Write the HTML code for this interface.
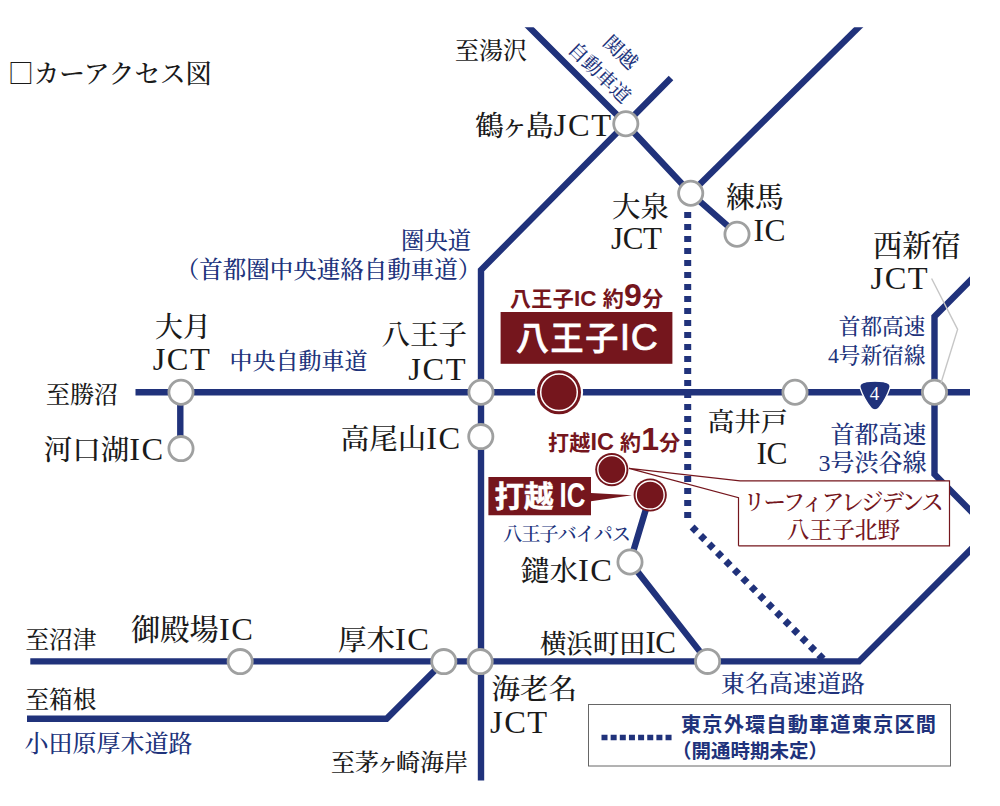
<!DOCTYPE html>
<html lang="ja">
<head>
<meta charset="utf-8">
<title>カーアクセス図</title>
<style>
html,body{margin:0;padding:0;background:#fff;}
body{width:1000px;height:806px;overflow:hidden;}
svg{display:block;}
.s{font-family:"Liberation Serif","Noto Serif CJK JP","Noto Serif CJK SC",serif;fill:#1a1a1a;font-weight:500;}
.n{font-family:"Liberation Serif","Noto Serif CJK JP","Noto Serif CJK SC",serif;fill:#20327b;font-weight:500;}
.r{font-family:"Liberation Sans","Noto Sans CJK JP",sans-serif;font-weight:bold;fill:#75161d;}
.rs{font-family:"Liberation Serif","Noto Serif CJK JP","Noto Serif CJK SC",serif;fill:#75161d;font-weight:500;}
.b{font-family:"Liberation Sans","Noto Sans CJK JP",sans-serif;font-weight:bold;fill:#20327b;}
.w{font-family:"Liberation Sans","Noto Sans CJK JP",sans-serif;font-weight:bold;fill:#fff;}
.road{stroke:#20327b;stroke-width:6.4;fill:none;stroke-linejoin:miter;}
.dot{stroke:#20327b;stroke-width:7;fill:none;stroke-dasharray:6 6;}
.ic{fill:#fff;stroke:#9fa0a0;stroke-width:2.8;}
.a{font-size:32.5px;letter-spacing:1.5px;}
</style>
</head>
<body>
<svg width="1000" height="806" viewBox="0 0 1000 806">
<defs><clipPath id="cp"><rect x="0" y="27.2" width="970" height="753.4"/></clipPath></defs>
<rect width="1000" height="806" fill="#fff"/>
<g clip-path="url(#cp)">
<!-- roads -->
<path class="road" d="M135.5 392.3H970"/>
<path class="road" d="M180.3 392V450"/>
<path class="road" d="M481 790V270L625.8 123.8L671 78"/>
<path class="road" d="M519.2 17.2L625.8 123.8L690.7 193.3L737 234.2"/>
<path class="road" d="M690.7 193.3L870 16"/>
<path class="road" d="M30.3 661.4H859L980 540.4"/>
<path class="road" d="M27 718.8H386.6L443.8 661.6"/>
<path class="road" d="M650.2 495L630 562L707.6 661.4"/>
<path class="road" d="M980 270.6L934.5 316.5V474.3L980 520.3"/>
<!-- dotted -->
<path class="dot" d="M687.7 212V522"/>
<path class="dot" d="M692.1 527L825 661"/>
</g>
<!-- IC circles -->
<g class="ic">
<circle cx="625.8" cy="123.8" r="12.1"/>
<circle cx="690.7" cy="193.3" r="12.1"/>
<circle cx="737" cy="234.2" r="12.1"/>
<circle cx="181" cy="392.3" r="12.1"/>
<circle cx="181" cy="448.6" r="12.1"/>
<circle cx="481" cy="392.3" r="12.1"/>
<circle cx="480.8" cy="436.6" r="12.1"/>
<circle cx="795" cy="392.3" r="12.1"/>
<circle cx="934.5" cy="392.3" r="12.1"/>
<circle cx="630" cy="562" r="12.1"/>
<circle cx="707.6" cy="661.4" r="12.1"/>
<circle cx="240.2" cy="661.6" r="12.1"/>
<circle cx="443.8" cy="661.6" r="12.1"/>
<circle cx="480.2" cy="661.6" r="12.1"/>
</g>
<!-- route 4 shield -->
<path d="M875 381.2C868 381.2 863 382.5 861.5 383.5C859.8 384.6 859.6 386.5 860.3 388.5C862.5 395 867 403 871 408C873 410.6 877 410.6 879 408C883 403 887.5 395 889.7 388.5C890.4 386.5 890.2 384.6 888.5 383.5C887 382.5 882 381.2 875 381.2Z" fill="#20327b" stroke="#fff" stroke-width="1.3"/>
<text x="874.6" y="400.2" text-anchor="middle" font-size="19" fill="#fff" font-family="'Liberation Serif',serif">4</text>
<!-- nishi-shinjuku leader -->
<path d="M931.6 278.5L957.6 329.4L941 383" stroke="#c6c6c6" stroke-width="1.4" fill="none"/>

<!-- red markers -->
<circle cx="559" cy="392.3" r="24.1" fill="#fff"/>
<circle cx="559" cy="392.3" r="22" fill="#75161d"/>
<circle cx="559" cy="392.3" r="18.3" fill="none" stroke="#fff" stroke-width="1.5"/>
<circle cx="611.8" cy="469.6" r="16.6" fill="#75161d"/>
<circle cx="611.8" cy="469.6" r="14" fill="none" stroke="#fff" stroke-width="1.4"/>
<circle cx="650.2" cy="495" r="16.6" fill="#75161d"/>
<circle cx="650.2" cy="495" r="14" fill="none" stroke="#fff" stroke-width="1.4"/>
<!-- hachioji IC box -->
<rect x="500.6" y="312" width="171.8" height="51.8" fill="#75161d"/>
<text class="w" x="516" y="349.6" font-size="33" letter-spacing="1.6" style="font-weight:500;stroke:#fff;stroke-width:.7px">八王子<tspan font-size="37.5" letter-spacing="0.5" dy="0.3">IC</tspan></text>
<text class="r" x="510" y="305.5" font-size="21" letter-spacing="0.35">八王子<tspan font-size="22.5" letter-spacing="0">IC</tspan> 約<tspan font-size="32">9</tspan>分</text>
<!-- uchikoshi -->
<path d="M488.4 477H591V493L632 495.2L591 501.3V515.3H488.4Z" fill="#75161d"/>
<text class="w" x="494.5" y="507" font-size="29.5" style="font-weight:bold;stroke:#fff;stroke-width:.5px">打越</text>
<text class="w" transform="translate(559.5,507.4) scale(0.72,1)" font-size="36" style="font-weight:bold">IC</text>
<text class="r" x="548" y="450" font-size="21" letter-spacing="0.2">打越<tspan font-size="23.5" letter-spacing="0">IC</tspan> 約<tspan font-size="32">1</tspan>分</text>
<!-- leafia box -->
<rect x="738.5" y="480.8" width="211" height="65" fill="#fff"/>
<path d="M738.5 545.8H949.5V480.8H740L629 468.3L738.5 497.6V545.8" fill="none" stroke="#75161d" stroke-width="1.2"/>
<text class="rs" x="842.3" y="510" text-anchor="middle" font-size="22.5" letter-spacing="-2.1">リーフィアレジデンス</text>
<text class="rs" x="843.5" y="538" text-anchor="middle" font-size="22.7">八王子北野</text>

<!-- legend -->
<rect x="588.5" y="704.5" width="362" height="61.5" fill="#fff" stroke="#666" stroke-width="1"/>
<path d="M601.5 737.5H672" stroke="#20327b" stroke-width="5.5" stroke-dasharray="6 3.15" fill="none"/>
<text class="b" x="681" y="732" font-size="20.2" letter-spacing="1.15">東京外環自動車道東京区間</text>
<text class="b" x="672" y="758.3" font-size="19.5">（開通時期未定）</text>

<!-- title -->
<text class="s" x="8" y="83" font-size="25.7"><tspan font-family="'Noto Serif CJK SC',serif">□</tspan>カーアクセス図</text>

<!-- black labels -->
<g class="s">
<text x="455" y="58.8" font-size="24">至湯沢</text>
<text x="612.5" y="136.3" font-size="28.5" text-anchor="end">鶴<tspan dx="-3.5">ヶ</tspan><tspan dx="-3.5">島</tspan><tspan class="a">JCT</tspan></text>
<text x="640.5" y="216.5" font-size="28.5" text-anchor="middle">大泉</text>
<text x="611" y="249.3" font-size="28.5"><tspan class="a" style="font-size:31px;letter-spacing:-0.4px">JCT</tspan></text>
<text x="726" y="207.8" font-size="29">練馬</text>
<text x="753.5" y="240.6" font-size="28.5"><tspan class="a" style="font-size:31.5px;letter-spacing:0.5px">IC</tspan></text>
<text x="873" y="255.6" font-size="29.3">西新宿</text>
<text x="870.5" y="288.7" font-size="28.5"><tspan class="a">JCT</tspan></text>
<text x="183" y="336.6" font-size="28" text-anchor="middle">大月</text>
<text x="182" y="369.8" font-size="28.5" text-anchor="middle"><tspan class="a">JCT</tspan></text>
<text x="467" y="345" font-size="28.5" text-anchor="end">八王子</text>
<text x="467" y="380" font-size="28.5" text-anchor="end"><tspan class="a">JCT</tspan></text>
<text x="46" y="403" font-size="24">至勝沼</text>
<text x="164.7" y="460.3" font-size="28.5" text-anchor="end">河口湖<tspan class="a">IC</tspan></text>
<text x="461.7" y="448.5" font-size="28.5" text-anchor="end">高尾山<tspan class="a">IC</tspan></text>
<text x="787.5" y="431.3" font-size="26.6" text-anchor="end">高井戸</text>
<text x="787" y="463.6" font-size="28.5" text-anchor="end"><tspan class="a" style="font-size:31.5px;letter-spacing:-0.5px">IC</tspan></text>
<text x="613.5" y="580.8" font-size="28.5" text-anchor="end">鑓水<tspan class="a">IC</tspan></text>
<text x="675.5" y="653.3" font-size="26.4" text-anchor="end">横浜町田<tspan class="a" style="font-size:31px;letter-spacing:-0.5px">IC</tspan></text>
<text x="131" y="640.3" font-size="29.3">御殿場<tspan class="a">IC</tspan></text>
<text x="338" y="650" font-size="28.5">厚木<tspan class="a">IC</tspan></text>
<text x="25.5" y="647.5" font-size="23.6">至沼津</text>
<text x="25.5" y="707.5" font-size="23.6">至箱根</text>
<text x="331" y="770.7" font-size="24">至茅<tspan dx="-3.5">ヶ</tspan><tspan dx="-3.5">崎</tspan>海岸</text>
<text x="491.5" y="699.3" font-size="28.5">海老名</text>
<text x="490" y="732.5" font-size="28.5"><tspan class="a">JCT</tspan></text>
</g>
<!-- navy labels -->
<g class="n">
<text x="471" y="249" font-size="23.3" text-anchor="end">圏央道</text>
<text x="481.3" y="277.5" font-size="23.5" text-anchor="end">（首都圏中央連絡自動車道）</text>
<text x="229.5" y="369.3" font-size="23">中央自動車道</text>
<text x="925.5" y="333.5" font-size="21.7" text-anchor="end">首都高速</text>
<text x="925.5" y="363" font-size="21.7" text-anchor="end">4号新宿線</text>
<text x="926.5" y="442.5" font-size="24" text-anchor="end">首都高速</text>
<text x="926.5" y="471.2" font-size="24" text-anchor="end">3号渋谷線</text>
<text x="503" y="541" font-size="19.3" letter-spacing="-1.1">八王子バイパス</text>
<text x="721" y="692" font-size="24">東名高速道路</text>
<text x="24.5" y="752" font-size="24">小田原厚木道路</text>
<g transform="translate(599.7,72.4) rotate(44)">
<text x="1" y="-22" font-size="19.5" text-anchor="middle">関越</text>
<text x="0" y="7" font-size="19.5" text-anchor="middle">自動車道</text>
</g>
</g>
</svg>
</body>
</html>
